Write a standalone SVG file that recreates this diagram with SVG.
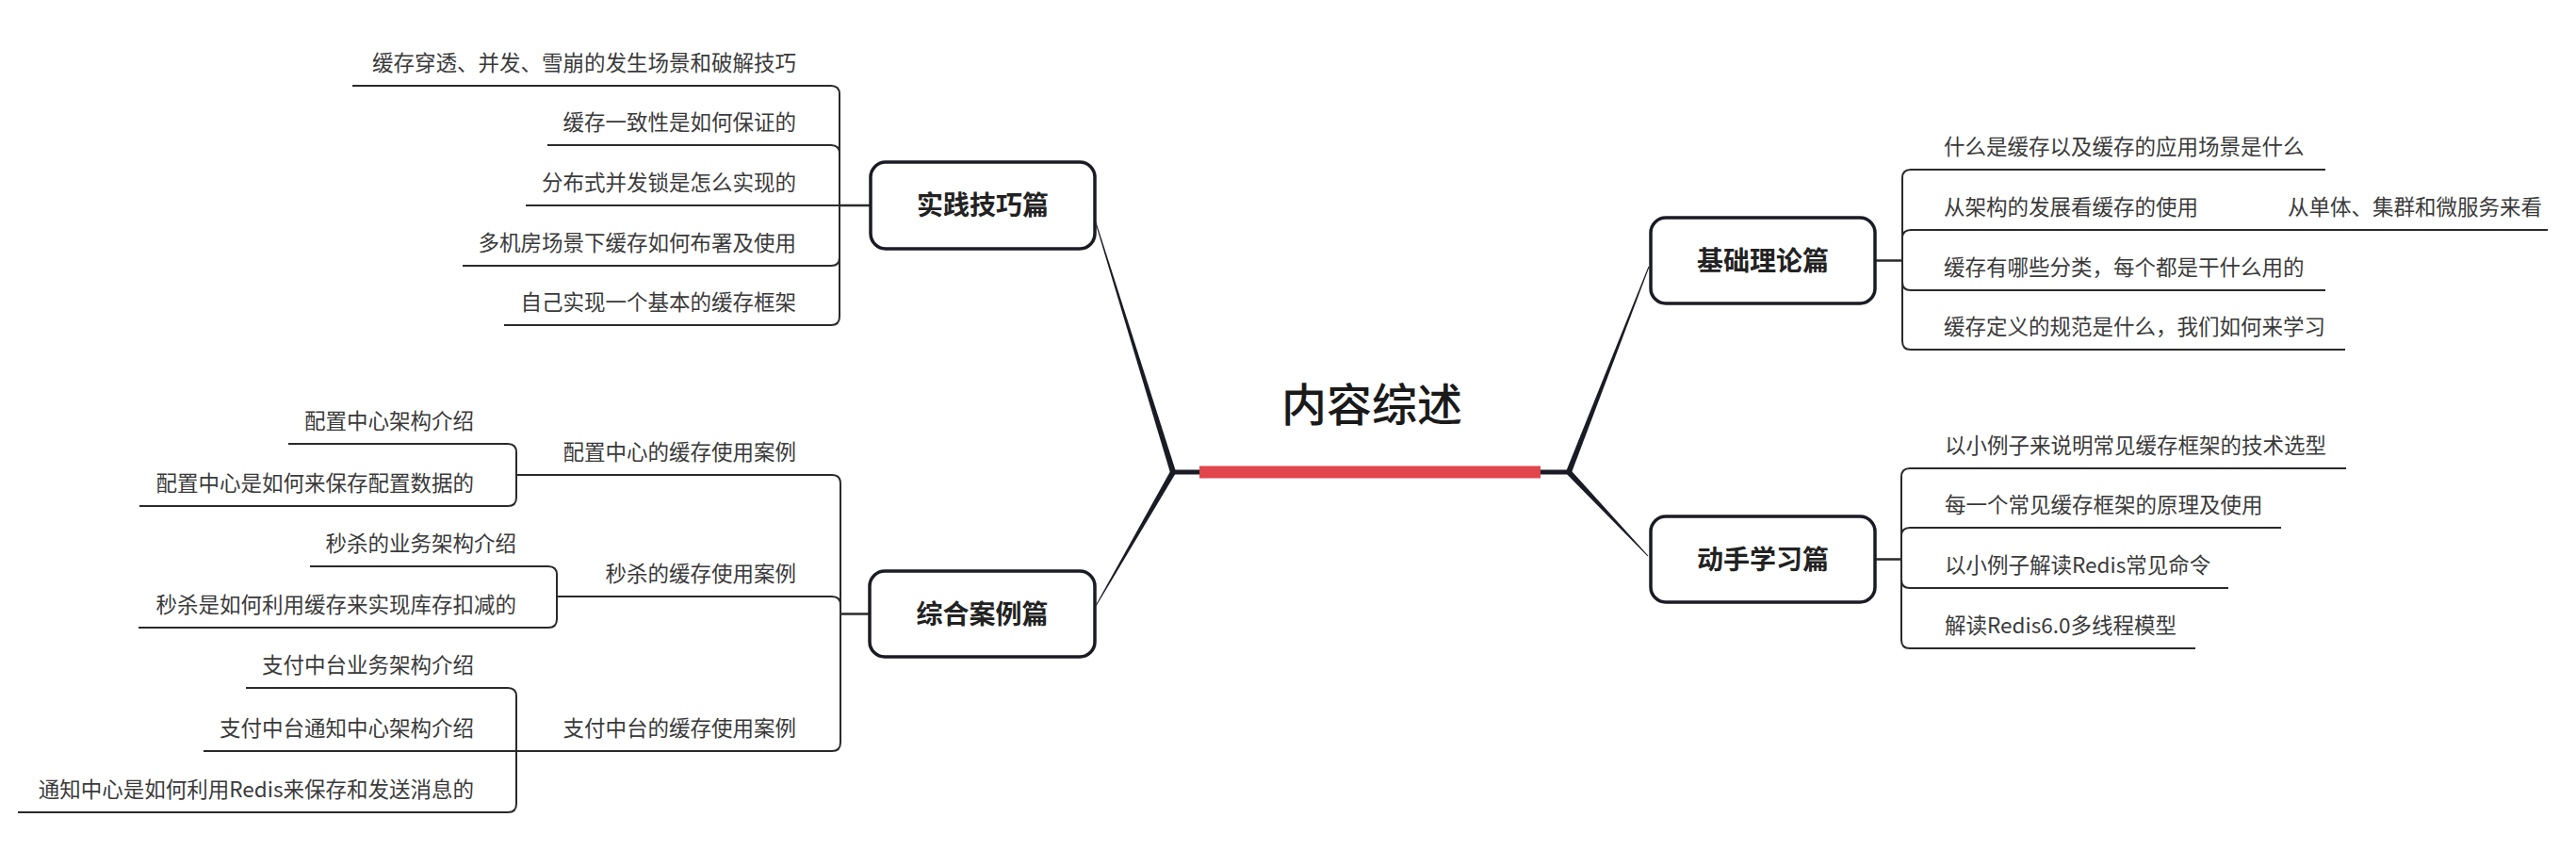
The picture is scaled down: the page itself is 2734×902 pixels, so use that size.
<svg xmlns="http://www.w3.org/2000/svg" width="2734" height="902" viewBox="0 0 2734 902">
  <style>
    .leaf { font-family: "Noto Sans CJK SC", "Noto Sans", sans-serif; font-size: 22.5px; fill: #3a3a3a; }
    .end { text-anchor: end; }
    .node rect { fill: #ffffff; stroke: #1b1b26; stroke-width: 3.5; }
    .node text { font-family: "Noto Sans CJK SC", "Noto Sans", sans-serif; font-size: 28px; font-weight: 600; fill: #222222; text-anchor: middle; }
    .title { font-family: "Noto Sans CJK SC", "Noto Sans", sans-serif; font-size: 48px; font-weight: 500; fill: #1a1a1a; text-anchor: middle; }
    .ln { fill: none; stroke: #2a2a2a; stroke-width: 2; }
    .ln2 { fill: none; stroke: #2a2a2a; stroke-width: 2.5; }
    .taper { fill: #1b1b26; }
  </style>
  <rect x="0" y="0" width="2734" height="902" fill="#ffffff"/>

  <g id="connectors">
    <!-- central hub -->
    <path class="taper" d="M1247.9 500.1 L1162.5 232.9 L1161.5 233.1 L1242.1 501.9 Z"/>
    <path class="taper" d="M1247.6 502.5 L1163.4 643.3 L1162.6 642.7 L1242.4 499.5 Z"/>
    <path class="taper" d="M1667.8 502.1 L1750.5 283.2 L1749.5 282.8 L1662.2 499.9 Z"/>
    <path class="taper" d="M1667.2 498.9 L1749.4 589.7 L1748.6 590.3 L1662.8 503.1 Z"/>
    <path d="M1245 501 H1275" stroke="#1b1b26" stroke-width="5" fill="none"/>
    <path d="M1633 501 H1665" stroke="#1b1b26" stroke-width="5" fill="none"/>
    <rect x="1273" y="494.5" width="362" height="13" fill="#e1464c"/>

    <!-- 实践技巧篇 -->
    <path class="ln2" d="M924 218 H891"/>
    <path class="ln" d="M891 218 V100 Q891 91 882 91 H374"/>
    <path class="ln" d="M891 218 V163 Q891 154 882 154 H581"/>
    <path class="ln" d="M891 218 H558"/>
    <path class="ln" d="M891 218 V273 Q891 282 882 282 H491"/>
    <path class="ln" d="M891 218 V336 Q891 345 882 345 H535"/>

    <!-- 基础理论篇 -->
    <path class="ln2" d="M1990 276.5 H2019"/>
    <path class="ln" d="M2019 276.5 V189 Q2019 180 2028 180 H2468"/>
    <path class="ln" d="M2019 276.5 V253 Q2019 244 2028 244 H2410"/>
    <path class="ln" d="M2410 244 H2704"/>
    <path class="ln" d="M2019 276.5 V299 Q2019 308 2028 308 H2468"/>
    <path class="ln" d="M2019 276.5 V362 Q2019 371 2028 371 H2489"/>

    <!-- 动手学习篇 -->
    <path class="ln2" d="M1990 593.5 H2018"/>
    <path class="ln" d="M2018 593.5 V506 Q2018 497 2027 497 H2490"/>
    <path class="ln" d="M2018 593.5 V569 Q2018 560 2027 560 H2421"/>
    <path class="ln" d="M2018 593.5 V615 Q2018 624 2027 624 H2365"/>
    <path class="ln" d="M2018 593.5 V679 Q2018 688 2027 688 H2330"/>

    <!-- 综合案例篇 -->
    <path class="ln2" d="M923 651.5 H892"/>
    <path class="ln" d="M892 651.5 V513 Q892 504 883 504 H548"/>
    <path class="ln" d="M548 504 V480 Q548 471 539 471 H306"/>
    <path class="ln" d="M548 504 V528 Q548 537 539 537 H148"/>
    <path class="ln" d="M892 651.5 V642 Q892 633 883 633 H591"/>
    <path class="ln" d="M591 633 V610 Q591 601 582 601 H329"/>
    <path class="ln" d="M591 633 V657 Q591 666 582 666 H147"/>
    <path class="ln" d="M892 651.5 V788 Q892 797 883 797 H548"/>
    <path class="ln" d="M548 797 V739 Q548 730 539 730 H261"/>
    <path class="ln" d="M548 797 H216"/>
    <path class="ln" d="M548 797 V853 Q548 862 539 862 H19"/>
  </g>

  <g id="center">
    <text class="title" x="1456" y="447">内容综述</text>
  </g>

  <g id="node-shijian" class="node">
    <rect x="924" y="172" width="238" height="92" rx="16"/>
    <text x="1043" y="228">实践技巧篇</text>
  </g>
  <g id="node-zonghe" class="node">
    <rect x="923" y="606" width="239" height="91" rx="16"/>
    <text x="1042.5" y="661.5">综合案例篇</text>
  </g>
  <g id="node-jichu" class="node">
    <rect x="1752" y="231" width="238" height="91" rx="16"/>
    <text x="1871" y="286.5">基础理论篇</text>
  </g>
  <g id="node-dongshou" class="node">
    <rect x="1752" y="548" width="238" height="91" rx="16"/>
    <text x="1871" y="603.5">动手学习篇</text>
  </g>

  <g id="leaves-shijian" class="leaf">
    <text class="end" x="845" y="75">缓存穿透、并发、雪崩的发生场景和破解技巧</text>
    <text class="end" x="845" y="138">缓存一致性是如何保证的</text>
    <text class="end" x="845" y="202">分布式并发锁是怎么实现的</text>
    <text class="end" x="845" y="266">多机房场景下缓存如何布署及使用</text>
    <text class="end" x="845" y="329">自己实现一个基本的缓存框架</text>
  </g>

  <g id="leaves-jichu" class="leaf">
    <text x="2063" y="164">什么是缓存以及缓存的应用场景是什么</text>
    <text x="2063" y="228">从架构的发展看缓存的使用</text>
    <text x="2428" y="228">从单体、集群和微服务来看</text>
    <text x="2063" y="292">缓存有哪些分类，每个都是干什么用的</text>
    <text x="2063" y="355">缓存定义的规范是什么，我们如何来学习</text>
  </g>

  <g id="leaves-dongshou" class="leaf">
    <text x="2064" y="481">以小例子来说明常见缓存框架的技术选型</text>
    <text x="2064" y="544">每一个常见缓存框架的原理及使用</text>
    <text x="2064" y="608">以小例子解读Redis常见命令</text>
    <text x="2064" y="672">解读Redis6.0多线程模型</text>
  </g>

  <g id="leaves-zonghe" class="leaf">
    <text class="end" x="845" y="488">配置中心的缓存使用案例</text>
    <text class="end" x="503" y="455">配置中心架构介绍</text>
    <text class="end" x="503" y="521">配置中心是如何来保存配置数据的</text>
    <text class="end" x="845" y="617">秒杀的缓存使用案例</text>
    <text class="end" x="548" y="585">秒杀的业务架构介绍</text>
    <text class="end" x="548" y="650">秒杀是如何利用缓存来实现库存扣减的</text>
    <text class="end" x="845" y="781">支付中台的缓存使用案例</text>
    <text class="end" x="503" y="714">支付中台业务架构介绍</text>
    <text class="end" x="503" y="781">支付中台通知中心架构介绍</text>
    <text class="end" x="503" y="846">通知中心是如何利用Redis来保存和发送消息的</text>
  </g>
</svg>
